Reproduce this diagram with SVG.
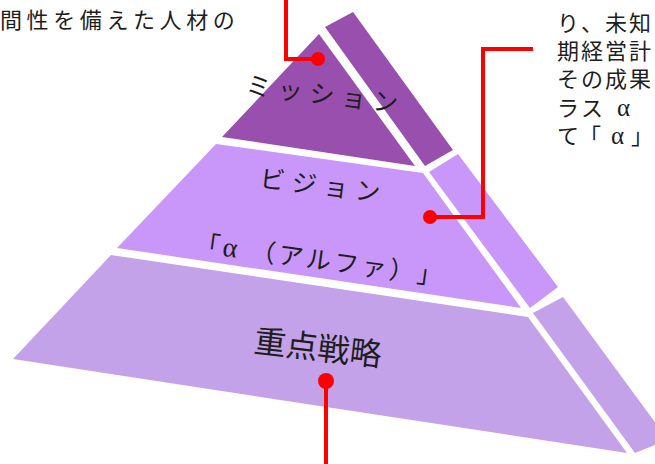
<svg xmlns="http://www.w3.org/2000/svg" width="655" height="464" viewBox="0 0 655 464">
<style>
  .t { font-family: "Noto Sans CJK JP", "Liberation Serif", sans-serif; fill: #1e1e1e; }
  .note { font-size: 22px; }
  .lbl { font-size: 25px; }
  .big { font-size: 32px; }
  .gr { font-family: "Liberation Serif", "Noto Sans CJK JP", serif; }
  .top { fill: #994fae; }
  .mid { fill: #c996fa; }
  .bot { fill: #c3a2ea; }
  .conn { fill: none; stroke: #ff0000; stroke-width: 4; }
  .dot { fill: #ff0000; }
</style>
<rect width="655" height="464" fill="#ffffff"/>

<g id="notes">
  <text class="t note" y="28" x="0 26.6 53.2 79.8 106.4 133 159.6 186.2 212.8">間性を備えた人材の</text>
  <text class="t note" y="31" x="557 581 605 629">り、未知</text>
  <text class="t note" y="59" x="557 581 605 629">期経営計</text>
  <text class="t note" y="87" x="557 581 605 629">その成果</text>
  <text class="t note" y="116"><tspan x="557 581">ラス</tspan><tspan class="gr" x="617" font-size="25">α</tspan></text>
  <text class="t note" y="144"><tspan x="557 579">て「</tspan><tspan class="gr" x="611" font-size="25">α</tspan><tspan x="631">」</tspan></text>
</g>

<g id="mission">
  <polygon class="top" points="319,34 415,166 222,137"/>
  <polygon class="top" points="325,27 353,12 453,150 425,166"/>
  <text class="t lbl" transform="translate(245,94) rotate(7)" x="0 32 64 96 128" y="0">ミッション</text>
</g>

<g id="vision">
  <polygon class="mid" points="216,144 423,173 521,308 117,248"/>
  <polygon class="mid" points="429,172 458,154 558,287 530,308"/>
  <text class="t lbl" transform="translate(259,187) rotate(7)" x="0 32 64 96" y="0">ビジョン</text>
  <text class="t lbl" transform="translate(194,252) rotate(7.7)" y="0"><tspan x="0">「</tspan><tspan class="gr" x="28" font-size="28">α</tspan><tspan x="56 84 112 140 168 196 224">（アルファ）」</tspan></text>
</g>

<g id="strategy">
  <polygon class="bot" points="111,255 528,317 627,453 13,359"/>
  <polygon class="bot" points="533,313 563,297 668,440 635,453"/>
  <text class="t big" transform="translate(253,352) rotate(6.5)" x="0 32 64 96" y="0">重点戦略</text>
</g>

<g id="connectors">
  <path class="conn" d="M318,59 H286 V-2"/>
  <circle class="dot" cx="318" cy="59" r="7"/>
  <path class="conn" d="M430,217 H483 V49 H533"/>
  <circle class="dot" cx="430" cy="217" r="7"/>
  <path class="conn" d="M326,381 V466"/>
  <circle class="dot" cx="326" cy="381" r="8"/>
</g>
</svg>
